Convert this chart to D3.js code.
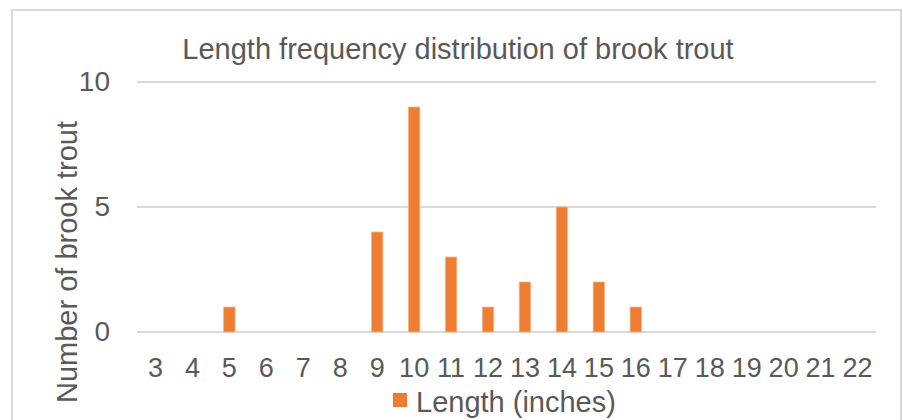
<!DOCTYPE html>
<html>
<head>
<meta charset="utf-8">
<script src="https://cdn.jsdelivr.net/npm/d3@7"></script>
<style>
  html, body { margin: 0; padding: 0; background: #fff; }
  svg { display: block; }
  text { font-family: "Liberation Sans", Arial, sans-serif; fill: #595959; }
</style>
</head>
<body>
<svg id="chart" width="903" height="420"></svg>
<script>
const categories = ["3","4","5","6","7","8","9","10","11","12","13","14","15","16","17","18","19","20","21","22"];
const counts =     [0, 0, 1, 0, 0, 0, 4, 9, 3, 1, 2, 5, 2, 1, 0, 0, 0, 0, 0, 0];
const yTicks = [0, 5, 10];
const titleText = "Length frequency distribution of brook trout";
const yTitle = "Number of brook trout";
const seriesName = "Length (inches)";

const svg = d3.select("#chart");
const plot = { left: 137, right: 876, top: 82, bottom: 332 };

// chart border
svg.append("rect")
  .attr("x", 12).attr("y", 10)
  .attr("width", 889).attr("height", 420)
  .attr("fill", "#fff").attr("stroke", "#D9D9D9").attr("stroke-width", 2);

const x = d3.scaleBand().domain(categories).range([plot.left, plot.right]).padding(0);
const y = d3.scaleLinear().domain([0, 10]).range([plot.bottom, plot.top]);

// gridlines
svg.append("g").selectAll("line").data(yTicks).join("line")
  .attr("x1", plot.left).attr("x2", plot.right)
  .attr("y1", d => y(d)).attr("y2", d => y(d))
  .attr("stroke", "#D9D9D9").attr("stroke-width", 2);

// y axis labels
const yAxis = d3.axisLeft(y).tickValues(yTicks).tickSize(0).tickPadding(0);
const gy = svg.append("g").attr("transform", `translate(110,0)`).call(yAxis);
gy.select(".domain").remove();
gy.selectAll("text").attr("font-size", 28).attr("fill", "#595959")
  .attr("font-family", "Liberation Sans, Arial, sans-serif");

// x axis labels
const xAxis = d3.axisBottom(x).tickSize(0).tickPadding(0);
const gx = svg.append("g").attr("transform", `translate(0,${plot.bottom})`).call(xAxis);
gx.select(".domain").remove();
gx.selectAll("text").attr("font-size", 27).attr("fill", "#595959")
  .attr("font-family", "Liberation Sans, Arial, sans-serif")
  .attr("dy", null).attr("y", 45);

// bars
const barW = x.bandwidth() * 0.31;
svg.append("g").selectAll("rect").data(categories).join("rect")
  .attr("x", d => x(d) + (x.bandwidth() - barW) / 2)
  .attr("width", barW)
  .attr("y", (d, i) => y(counts[i]))
  .attr("height", (d, i) => y(0) - y(counts[i]))
  .attr("fill", "#ED7D31")
  .attr("stroke", "#F6B68A").attr("stroke-width", 0.8);

// title
svg.append("text").attr("x", 458).attr("y", 59)
  .attr("text-anchor", "middle").attr("font-size", 29)
  .text(titleText);

// y title
svg.append("text")
  .attr("transform", `translate(77,262) rotate(-90)`)
  .attr("text-anchor", "middle").attr("font-size", 29)
  .text(yTitle);

// legend
svg.append("rect").attr("x", 393).attr("y", 393).attr("width", 14).attr("height", 14)
  .attr("fill", "#ED7D31");
svg.append("text").attr("x", 416).attr("y", 412).attr("font-size", 29)
  .text(seriesName);
</script>
</body>
</html>
